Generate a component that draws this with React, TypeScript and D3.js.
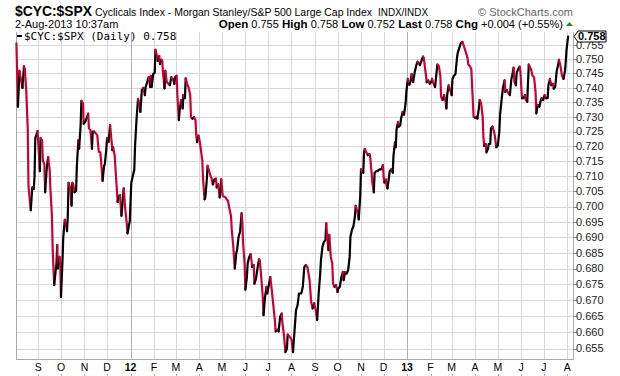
import React from 'react';
import * as d3 from 'd3';

// ---- data ----
const START_DATE = new Date(2011, 7, 1); // day offsets are counted from 1-Aug-2011
const dayOffsets = [
  2,4,6,8,10,12,13,15,17,18,20,21,23,25,26,27,30,31,33,34,36,37,39,40,42,44,46,47,49,50,52,54,55,56,57,59,60,61,63,64,66,67,69,70,71,73,75,76,77,79,81,82,84,85,87,88,90,91,93,95,97,98,100,102,103,105,107,109,111,113,114,116,118,119,121,122,124,126,127,129,130,132,134,136,137,139,141,143,144,146,148,149,151,152,154,156,158,159,161,163,165,166,168,170,172,173,175,177,179,180,
  181,183,185,186,188,189,191,192,194,195,196,198,199,201,203,205,207,209,211,212,214,215,217,218,220,222,223,225,226,228,230,232,233,235,237,239,240,241,243,244,246,248,249,251,252,254,255,257,259,260,262,264,266,267,269,271,272,273,275,277,279,280,282,284,286,287,289,291,293,294,296,298,300,301,302,304,305,307,308,310,312,314,316,317,319,321,323,324,326,328,329,331,333,334,336,338,340,342,344,345,347,349,351,353,354,356,358,360,361,363,
  366,368,372,374,376,379,381,383,385,387,390,392,394,396,398,400,402,404,405,407,409,411,412,413,415,416,418,420,421,423,425,427,428,430,432,434,435,437,439,441,443,444,446,448,450,451,453,455,457,458,459,461,462,463,465,467,469,470,472,473,475,476,478,480,481,483,485,487,488,489,491,492,493,495,496,498,500,501,503,504,505,507,508,510,511,513,515,517,518,520,522,524,525,527,529,531,533,534,536,538,540,541,
  544,545,547,549,551,552,554,556,558,559,561,563,564,566,568,570,571,572,574,576,578,579,581,583,585,586,588,590,592,593,595,597,599,600,602,604,605,607,609,611,612,614,615,617,619,620,621,623,624,626,627,629,630,632,634,635,637,639,641,642,644,646,648,649,651,653,655,657,658,660,661,663,664,666,668,669,671,673,675,676,678,680,682,683,685,687,689,690,692,694,696,697,699,701,703,705,706,708,710,712,713,715,717,719,720,722,724,726,728,729,730,732,
];
const closes = [
  .7556,.7335,.7459,.7430,.7400,.7475,.7468,.7392,.7260,.7068,.7013,.6988,.7063,.7058,.7100,.7228,.7252,.7208,.7117,.7228,.7220,.7152,.7140,.7047,.7122,.7164,.7122,.7058,.6970,.6860,.6747,.6795,.6815,.6875,.6800,.6837,.6815,.6710,.6826,.6900,.6957,.6947,.6920,.6970,.7078,.7063,.7003,.7078,.7076,.7047,.7052,.7135,.7220,.7192,.7272,.7355,.7347,.7277,.7283,.7297,.7311,.7261,.7255,.7192,.7250,.7250,.7244,.7238,.7182,.7180,.7152,.7085,.7135,.7140,.7192,.7228,.7215,.7272,.7244,.7187,.7197,.7170,.7090,.7015,.7030,.7038,.6970,.7030,.7060,.6992,.6946,.6913,.6940,.6951,.7078,.7100,.7122,.7202,.7294,.7362,.7340,.7317,.7392,.7400,.7375,.7403,.7420,.7437,.7403,.7442,
  .7403,.7448,.7453,.7533,.7511,.7494,.7511,.7483,.7498,.7494,.7453,.7398,.7459,.7420,.7414,.7409,.7437,.7431,.7414,.7437,.7442,.7375,.7289,.7323,.7358,.7329,.7375,.7364,.7433,.7414,.7400,.7375,.7300,.7294,.7300,.7289,.7238,.7214,.7236,.7226,.7191,.7152,.7090,.7024,.7030,.7090,.7135,.7117,.7100,.7095,.7073,.7090,.7092,.7063,.7073,.7030,.7047,.7090,.7036,.7032,.7030,.7024,.7019,.6991,.6969,.6924,.6870,.6800,.6850,.6859,.6902,.6919,.6978,.6947,.6880,.6816,.6733,.6773,.6816,.6837,.6846,.6805,.6811,.6752,.6768,.6800,.6829,.6827,.6773,.6710,.6653,.6710,.6742,.6721,.6747,.6773,.6731,.6684,.6638,.6603,.6608,.6603,.6648,.6658,.6628,.6593,.6539,.6550,.6593,.6588,
  .6578,.6539,.6669,.6684,.6721,.6721,.6742,.6805,.6811,.6805,.6763,.6695,.6674,.6690,.6669,.6638,.6721,.6784,.6827,.6870,.6886,.6891,.6945,.6908,.6859,.6908,.6837,.6816,.6752,.6742,.6747,.6726,.6737,.6742,.6773,.6789,.6763,.6789,.6784,.6795,.6837,.6902,.6924,.6936,.6969,.7002,.6986,.6958,.7036,.7123,.7117,.7112,.7180,.7191,.7180,.7171,.7174,.7169,.7112,.7079,.7047,.7112,.7117,.7117,.7121,.7123,.7123,.7137,.7100,.7079,.7089,.7068,.7060,.7095,.7117,.7123,.7112,.7169,.7214,.7197,.7256,.7283,.7267,.7272,.7294,.7317,.7308,.7347,.7386,.7431,.7411,.7426,.7448,.7420,.7453,.7477,.7491,.7488,.7479,.7494,.7509,.7506,
  .7442,.7420,.7426,.7414,.7420,.7431,.7414,.7403,.7453,.7481,.7476,.7442,.7369,.7358,.7375,.7352,.7329,.7375,.7409,.7392,.7375,.7431,.7442,.7448,.7504,.7522,.7539,.7556,.7561,.7556,.7539,.7522,.7504,.7481,.7476,.7465,.7409,.7300,.7297,.7300,.7294,.7329,.7358,.7347,.7300,.7232,.7202,.7208,.7180,.7191,.7208,.7208,.7261,.7267,.7250,.7238,.7197,.7202,.7250,.7306,.7358,.7403,.7426,.7386,.7392,.7381,.7375,.7431,.7442,.7470,.7420,.7409,.7453,.7465,.7474,.7453,.7364,.7364,.7375,.7358,.7352,.7481,.7470,.7465,.7442,.7437,.7386,.7312,.7341,.7335,.7358,.7364,.7358,.7375,.7364,.7364,.7409,.7431,.7409,.7414,.7397,.7403,.7459,.7481,.7498,.7476,.7442,.7431,.7459,.7494,.7533,.7580,
];
const yTickValues = [0.655,0.66,0.665,0.67,0.675,0.68,0.685,0.69,0.695,0.7,0.705,0.71,0.715,0.72,0.725,0.73,0.735,0.74,0.745,0.75,0.755];
const monthLabels = ['S','O','N','D','12','F','M','A','M','J','J','A','S','O','N','D','13','F','M','A','M','J','J','A'];
const quote = [
  ['Open', '0.755'], ['High', '0.758'], ['Low', '0.752'], ['Last', '0.758'], ['Chg', '+0.004 (+0.55%)'],
];

const W = 620, H = 376;
const L = 16, R = 573, T = 32, B = 359;
const RED = '#cc0033';
const SANS = 'Arial, "Liberation Sans", Helvetica, sans-serif';

export default function App() {
  const x = d3.scaleTime().domain([START_DATE, new Date(2013, 7, 1)]).range([14.9, 567.3]);
  const y = d3.scaleLog().domain([0.6518, 0.7596]).range([B, T]);
  const pts = dayOffsets.map((d, i) => ({ date: d3.timeDay.offset(START_DATE, d), v: closes[i] }));
  const line = d3.line<any>().x((p) => x(p.date)).y((p) => y(p.v));

  // group consecutive segments by direction (up = black, down = red)
  const runs: { color: string; pts: any[] }[] = [];
  for (let i = 1; i < pts.length; i++) {
    const color = pts[i].v >= pts[i - 1].v ? '#000' : RED;
    const last = runs[runs.length - 1];
    if (last && last.color === color) last.pts.push(pts[i]);
    else runs.push({ color, pts: [pts[i - 1], pts[i]] });
  }

  const months = d3.timeMonth.range(new Date(2011, 8, 1), new Date(2013, 7, 2));
  const lastV = closes[closes.length - 1];
  const ly = y(lastV);

  return (
    <svg width={W} height={H} style={{ position: 'absolute', left: 0, top: 0, background: '#fff' }} fontFamily={SANS}>
      <rect x={0} y={0} width={W} height={H} fill="#fff" />
      {/* header */}
      <text x={15} y={16} fontSize={14} fontWeight="bold" textLength={77} lengthAdjust="spacingAndGlyphs">$CYC:$SPX</text>
      <text x={95} y={16} fontSize={10.6} textLength={277} lengthAdjust="spacingAndGlyphs">Cyclicals Index - Morgan Stanley/S&amp;P 500 Large Cap Index</text>
      <text x={378} y={16} fontSize={10.6} textLength={50} lengthAdjust="spacingAndGlyphs">INDX/INDX</text>
      <text x={573} y={16} fontSize={11} textAnchor="end" fill="#666">© StockCharts.com</text>
      <text x={15} y={28} fontSize={11}>2-Aug-2013 10:37am</text>
      <text x={563} y={28} fontSize={11} textAnchor="end">
        {quote.map(([k, v], i) => (
          <tspan key={k}>
            <tspan fontWeight="bold" fontSize={11.5}>{(i ? ' ' : '') + k}</tspan>
            <tspan>{' ' + v}</tspan>
          </tspan>
        ))}
      </text>
      <path d="M566,26 L573,26 L569.5,22 Z" fill="#2a8a2a" />

      {/* grid */}
      {yTickValues.map((t) => (
        <line key={t} x1={L} x2={R} y1={Math.round(y(t)) + 0.5} y2={Math.round(y(t)) + 0.5} stroke="#d8d8d8" />
      ))}
      {months.map((m, i) => (
        <line key={i} x1={Math.round(x(m)) + 0.5} x2={Math.round(x(m)) + 0.5} y1={T} y2={B}
          stroke={m.getMonth() === 0 ? '#b0b0b0' : '#d8d8d8'} />
      ))}

      {/* axes frame */}
      <line x1={L + 0.5} x2={L + 0.5} y1={T} y2={B} stroke="#aaa" />
      <line x1={R + 0.5} x2={R + 0.5} y1={T} y2={B} stroke="#aaa" />
      <line x1={L} x2={R + 1} y1={B + 0.5} y2={B + 0.5} stroke="#aaa" />

      {/* y labels (the top one is partly hidden by the last-price marker, as in the original) */}
      {yTickValues.map((t) => (
        <g key={t}>
          <line x1={R} x2={R + 4} y1={Math.round(y(t)) + 0.5} y2={Math.round(y(t)) + 0.5} stroke="#888" />
          <text x={576} y={y(t)} dy="0.35em" fontSize={11} fill="#222">{t.toFixed(3)}</text>
        </g>
      ))}

      {/* x labels */}
      {months.map((m, i) => (
        <g key={i}>
          <text x={x(m)} y={371} fontSize={10.5} textAnchor="middle" fontWeight={monthLabels[i].length > 1 ? 'bold' : 'normal'}>
            {monthLabels[i]}
          </text>
          <line x1={Math.round(x(m)) + 0.5} x2={Math.round(x(m)) + 0.5} y1={374} y2={376} stroke="#aaa" />
        </g>
      ))}

      {/* price line */}
      <g fill="none" strokeWidth={2.2} strokeLinejoin="round" strokeLinecap="round">
        {runs.map((r, i) => (
          <path key={i} d={line(r.pts) || ''} stroke={r.color} />
        ))}
      </g>

      {/* legend */}
      <line x1={17} x2={22} y1={36} y2={36} stroke="#000" strokeWidth={2} />
      <text x={24} y={40} fontSize={11} fontFamily='"DejaVu Sans Mono", monospace'>$CYC:$SPX (Daily) {lastV.toFixed(3)}</text>

      {/* last price marker */}
      <path d={`M${R + 1},${ly} L${R + 5},${ly - 5.5} L${606},${ly - 5.5} L${606},${ly + 5.5} L${R + 5},${ly + 5.5} Z`} fill="#fff" stroke="#000" />
      <text x={578} y={ly} dy="0.36em" fontSize={11} fontWeight="bold">{lastV.toFixed(3)}</text>
    </svg>
  );
}
